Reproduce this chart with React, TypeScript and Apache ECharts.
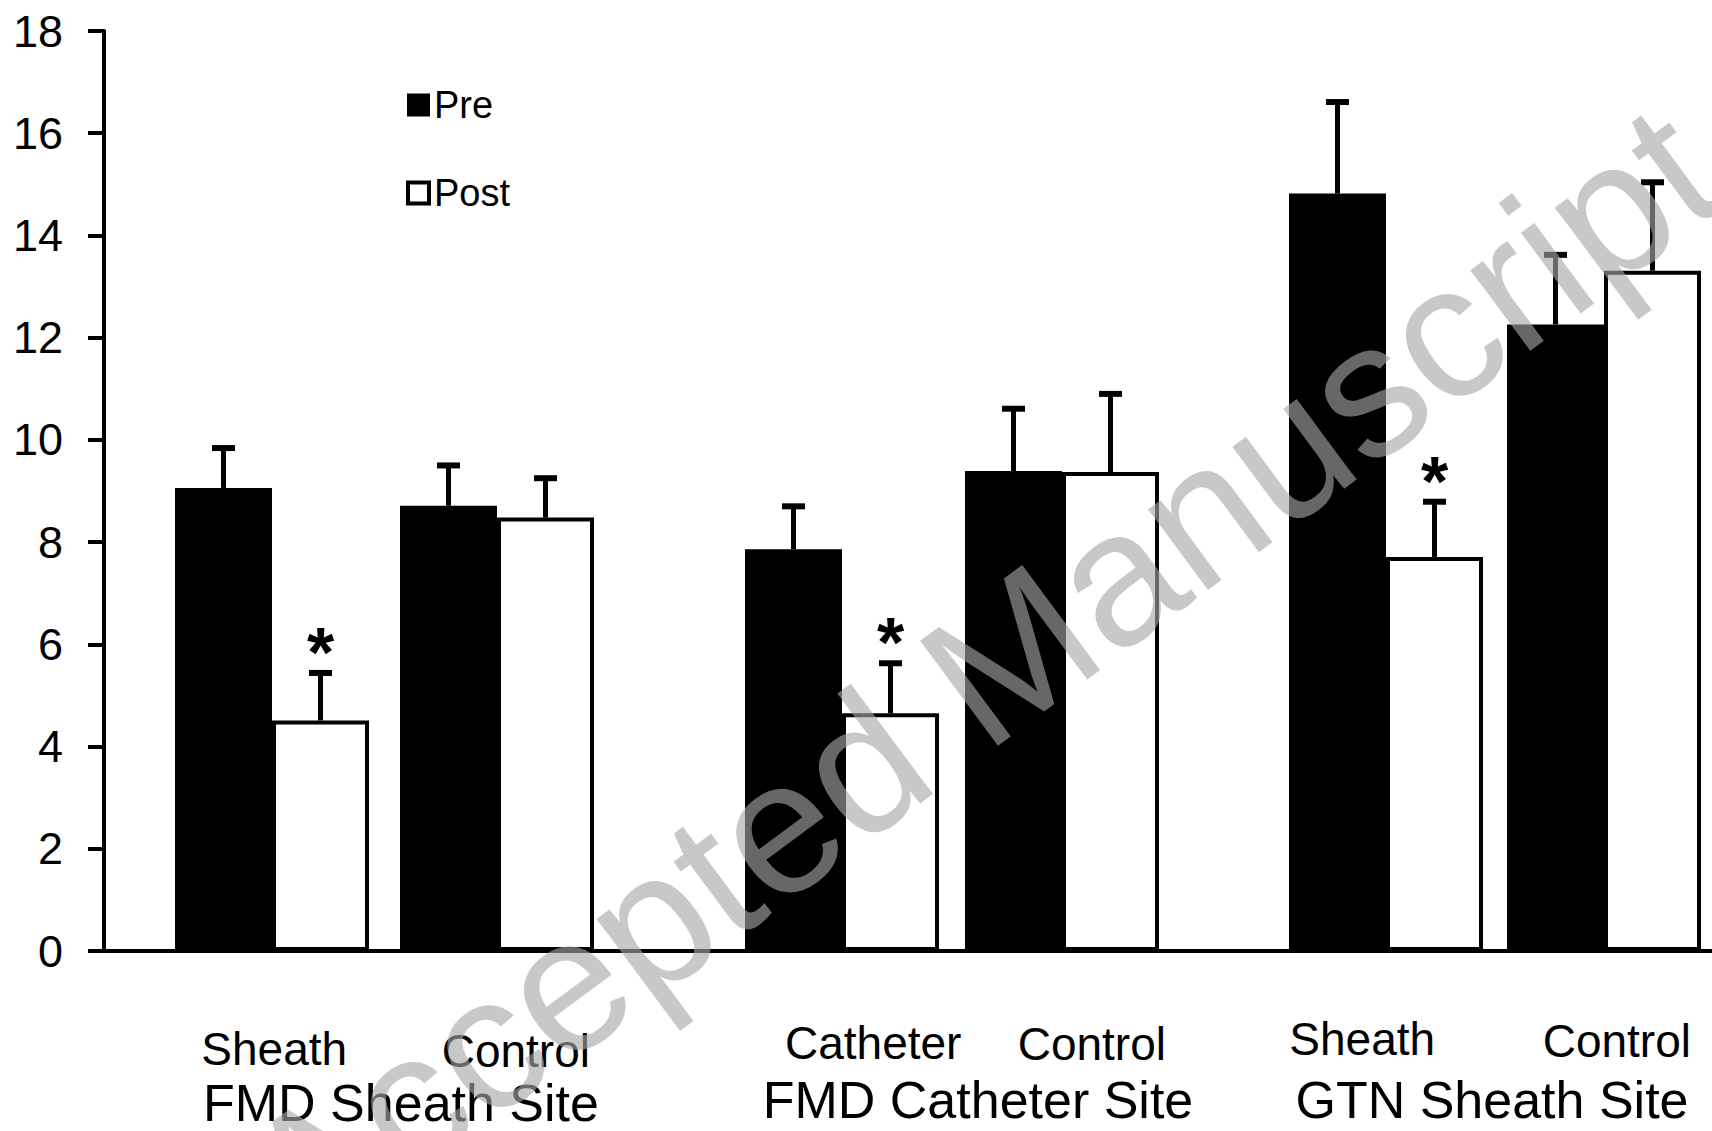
import React, { useEffect, useRef } from 'react';
import * as echarts from 'echarts';

// ---------------- data ----------------
const seriesNames = ['Pre', 'Post'];
const groupLabels = ['Sheath', 'Control', 'Catheter', 'Control', 'Sheath', 'Control'];
const siteLabels = ['FMD Sheath Site', 'FMD Catheter Site', 'GTN Sheath Site'];
const preMean = [9.06, 8.71, 7.86, 9.39, 14.82, 12.26];
const preErr = [0.78, 0.79, 0.84, 1.22, 1.79, 1.36];
const postMean = [4.51, 8.48, 4.65, 9.37, 7.71, 13.31];
const postErr = [0.93, 0.77, 0.98, 1.53, 1.08, 1.73];
const postSignificant = [true, false, true, false, true, false];
const yMin = 0;
const yMax = 18;
const yInterval = 2;
const watermarkText = 'Accepted Manuscript';

// ---------------- layout (positions / sizes / styles) ----------------
const FONT = '"Liberation Sans", Arial, Helvetica, sans-serif';
// horizontal placement of each Pre/Post pair along the (hidden-scale) x axis
const X_RANGE = 1608;
const pairCenters = [168, 393, 738, 958, 1282, 1500];
// label axes
const SLOT_COUNT = 15;
const groupSlots = [1, 3, 6, 8, 11, 13];
const siteSlots = [2, 7, 12];
const groupLabelShift = [[4, 10], [24, 12], [49, 4], [46, 5], [-16, 0], [17, 2]];
const siteLabelShift = [[20, 3], [43, 0], [3, 0]];
const BAR_WIDTH = 97;
const CAP_WIDTH = 23;

function shiftPadding(dx: number, dy: number) {
  return [dy, dx < 0 ? -2 * dx : 0, 0, dx > 0 ? 2 * dx : 0];
}

export default function App() {
  const ref = useRef<HTMLDivElement>(null);

  useEffect(() => {
    if (!ref.current) return;
    const chart = echarts.init(ref.current, undefined, { renderer: 'svg' });

    const groupAxisData = new Array(SLOT_COUNT).fill(null).map(() => ({ value: '' } as any));
    groupSlots.forEach((s, i) => {
      groupAxisData[s] = {
        value: groupLabels[i],
        textStyle: { padding: shiftPadding(groupLabelShift[i][0], groupLabelShift[i][1]) },
      };
    });
    const siteAxisData = new Array(SLOT_COUNT).fill(null).map(() => ({ value: '' } as any));
    siteSlots.forEach((s, i) => {
      siteAxisData[s] = {
        value: siteLabels[i],
        textStyle: { padding: shiftPadding(siteLabelShift[i][0], siteLabelShift[i][1]) },
      };
    });

    const preData = preMean.map((v, i) => [pairCenters[i], v]);
    const postData = postMean.map((v, i) => [pairCenters[i], v]);

    const errData: any[] = [];
    pairCenters.forEach((c, i) => {
      errData.push([c, preMean[i], preErr[i], 0, -1]);
      errData.push([c, postMean[i], postErr[i], postSignificant[i] ? 1 : 0, 1]);
    });

    const plotGrid = {
      left: 104,
      width: X_RANGE,
      top: 31,
      bottom: 180,
      containLabel: false,
      outerBoundsMode: 'none',
    };
    const labelGrid = {
      left: 104,
      width: 1662,
      top: 31,
      bottom: 180,
      containLabel: false,
      outerBoundsMode: 'none',
    };

    const option: any = {
      animation: false,
      backgroundColor: '#ffffff',
      textStyle: { fontFamily: FONT },
      grid: [plotGrid, labelGrid, { ...labelGrid }],
      legend: {
        orient: 'vertical',
        left: 406,
        top: 86,
        padding: 0,
        itemWidth: 21,
        itemHeight: 21,
        itemGap: 50,
        selectedMode: false,
        data: [
          { name: seriesNames[0], icon: 'rect', itemStyle: { color: '#000', borderColor: '#000', borderWidth: 2 } },
          { name: seriesNames[1], icon: 'rect', itemStyle: { color: '#fff', borderColor: '#000', borderWidth: 4 } },
        ],
        textStyle: { fontSize: 38, lineHeight: 38, color: '#000', fontFamily: FONT },
      },
      xAxis: [
        {
          type: 'value',
          gridIndex: 0,
          min: 0,
          max: X_RANGE,
          axisLine: { show: true, onZero: false, lineStyle: { color: '#000', width: 4 } },
          axisTick: { show: false },
          axisLabel: { show: false },
          splitLine: { show: false },
        },
        {
          type: 'category',
          gridIndex: 1,
          data: groupAxisData,
          axisLine: { show: false },
          axisTick: { show: false },
          axisLabel: {
            interval: 0,
            margin: 65,
            color: '#000',
            fontSize: 46,
            lineHeight: 46,
            fontFamily: FONT,
          },
          splitLine: { show: false },
        },
        {
          type: 'category',
          gridIndex: 2,
          data: siteAxisData,
          axisLine: { show: false },
          axisTick: { show: false },
          axisLabel: {
            interval: 0,
            margin: 123,
            color: '#000',
            fontSize: 52,
            lineHeight: 52,
            fontFamily: FONT,
          },
          splitLine: { show: false },
        },
      ],
      yAxis: [
        {
          type: 'value',
          gridIndex: 0,
          min: yMin,
          max: yMax,
          interval: yInterval,
          axisLine: { show: true, lineStyle: { color: '#000', width: 4 } },
          axisTick: { show: true, inside: false, length: 16, lineStyle: { color: '#000', width: 4 } },
          axisLabel: { margin: 41, color: '#000', fontSize: 45, fontFamily: FONT },
          splitLine: { show: false },
        },
        { type: 'value', gridIndex: 1, min: yMin, max: yMax, show: false, splitLine: { show: false } },
        { type: 'value', gridIndex: 2, min: yMin, max: yMax, show: false, splitLine: { show: false } },
      ],
      series: [
        {
          name: seriesNames[0],
          type: 'bar',
          xAxisIndex: 0,
          yAxisIndex: 0,
          data: preData,
          barWidth: BAR_WIDTH,
          barGap: '0%',
          itemStyle: { color: '#000', borderColor: '#000', borderWidth: 2 },
          z: 2,
        },
        {
          name: seriesNames[1],
          type: 'bar',
          xAxisIndex: 0,
          yAxisIndex: 0,
          data: postData,
          barWidth: BAR_WIDTH,
          barGap: '0%',
          itemStyle: { color: '#fff', borderColor: '#000', borderWidth: 4 },
          z: 2,
        },
        {
          name: 'error',
          type: 'custom',
          xAxisIndex: 0,
          yAxisIndex: 0,
          z: 3,
          encode: { x: 0, y: 1 },
          data: errData,
          renderItem: (params: any, api: any) => {
            const xv = api.value(0);
            const mean = api.value(1);
            const err = api.value(2);
            const sig = api.value(3);
            const side = api.value(4);
            const base = api.coord([xv, mean]);
            const top = api.coord([xv, mean + err]);
            const x = base[0] + (side * BAR_WIDTH) / 2;
            const children: any[] = [
              {
                type: 'line',
                shape: { x1: x, y1: base[1], x2: x, y2: top[1] },
                style: { stroke: '#000', lineWidth: 5 },
              },
              {
                type: 'line',
                shape: { x1: x - CAP_WIDTH / 2, y1: top[1], x2: x + CAP_WIDTH / 2, y2: top[1] },
                style: { stroke: '#000', lineWidth: 6 },
              },
            ];
            if (sig) {
              children.push({
                type: 'text',
                x: x,
                y: top[1] - 20,
                style: {
                  text: '*',
                  align: 'center',
                  verticalAlign: 'middle',
                  font: `bold 70px ${FONT}`,
                  fill: '#000',
                },
              });
            }
            return { type: 'group', children };
          },
        },
      ],
      graphic: [
        {
          type: 'text',
          x: 980,
          y: 677,
          rotation: (36.6 * Math.PI) / 180,
          z: 100,
          silent: true,
          style: {
            text: watermarkText,
            align: 'center',
            verticalAlign: 'middle',
            font: `190px ${FONT}`,
            fill: 'rgba(166,166,166,0.62)',
          },
        },
      ],
    };

    chart.setOption(option);
    return () => {
      chart.dispose();
    };
  }, []);

  return (
    <div
      ref={ref}
      style={{ position: 'fixed', left: 0, top: 0, width: 1712, height: 1131, background: '#fff' }}
    />
  );
}
